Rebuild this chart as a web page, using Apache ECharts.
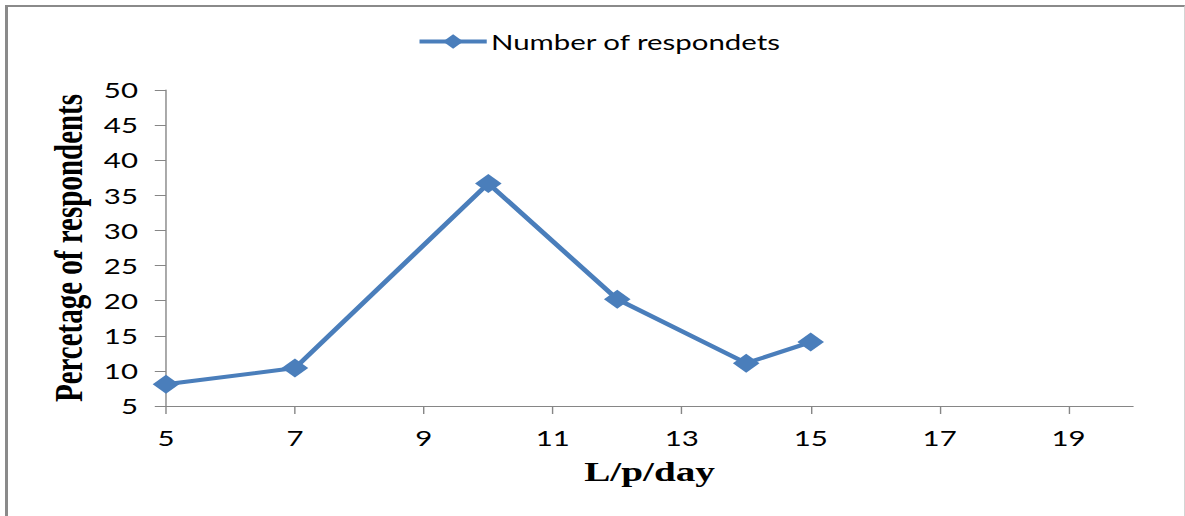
<!DOCTYPE html>
<html>
<head>
<meta charset="utf-8">
<script src="https://cdn.jsdelivr.net/npm/echarts@6/dist/echarts.min.js"></script>
<style>
  html, body { margin: 0; padding: 0; background: #fff; overflow: hidden; }
  #frame { position: absolute; left: 5px; top: 5px; width: 1176px; height: 530px;
           border-left: 3px solid #8a8a8a; border-top: 2px solid #8a8a8a; border-right: 1px solid #d4d4d4; }
  #wrap { position: absolute; left: 0; top: 0; width: 846px; height: 516px;
          transform: scaleX(1.40071); transform-origin: 0 0; }
  #chart { width: 846px; height: 516px; }
</style>
</head>
<body>
<div id="frame"></div>
<div id="wrap"><div id="chart"></div></div>
<script>
// Data
const litresPerDay = [5, 7, 10, 12, 14, 15];
const respondentsPct = [8.1, 10.4, 36.7, 20.2, 11.1, 14.1];
const xTickValues = [5, 7, 9, 11, 13, 15, 17, 19];
const seriesName = 'Number of respondets';
const xAxisTitle = 'L/p/day';
const yAxisTitle = 'Percetage of respondents';

const points = litresPerDay.map((x, i) => [x, respondentsPct[i]]);
const blue = '#4A7EBB';
const axisGray = '#868686';

const chart = echarts.init(document.getElementById('chart'), null, { renderer: 'svg' });
chart.setOption({
  animation: false,
  backgroundColor: 'transparent',
  grid: { left: 118.5, right: 37.1, top: 90, bottom: 110, containLabel: false },
  legend: {
    data: [seriesName],
    left: 292.5, top: 26,
    itemWidth: 48, itemHeight: 18, itemGap: 10,
    lineStyle: { width: 4 },
    textStyle: { fontFamily: 'Lato', fontSize: 21, color: '#000', padding: [0, 0, 0, -2] }
  },
  xAxis: {
    type: 'value', min: 5, max: 20,
    name: xAxisTitle, nameLocation: 'middle', nameGap: 52,
    nameTextStyle: { fontFamily: 'Liberation Serif', fontWeight: 'bold', fontSize: 28, color: '#000' },
    axisLine: { show: true, onZero: false, lineStyle: { color: axisGray, width: 1 } },
    axisTick: { show: true, length: 8, customValues: xTickValues, lineStyle: { color: axisGray } },
    axisLabel: { customValues: xTickValues, margin: 21, fontFamily: 'Lato', fontSize: 21, color: '#000' },
    splitLine: { show: false }
  },
  yAxis: {
    type: 'value', min: 5, max: 50, interval: 5,
    name: yAxisTitle, nameLocation: 'middle', nameGap: 53, nameRotate: 90,
    nameTextStyle: { fontFamily: 'Liberation Serif', fontWeight: 'bold', fontSize: 29, color: '#000' },
    axisLine: { show: true, onZero: false, lineStyle: { color: axisGray, width: 1 } },
    axisTick: { show: true, length: 8, lineStyle: { color: axisGray } },
    axisLabel: { margin: 20, fontFamily: 'Lato', fontSize: 21, color: '#000' },
    splitLine: { show: false }
  },
  series: [{
    name: seriesName,
    type: 'line',
    data: points,
    symbol: 'diamond',
    symbolSize: 19,
    lineStyle: { color: blue, width: 4 },
    itemStyle: { color: blue },
    z: 3
  }]
});
</script>
</body>
</html>
